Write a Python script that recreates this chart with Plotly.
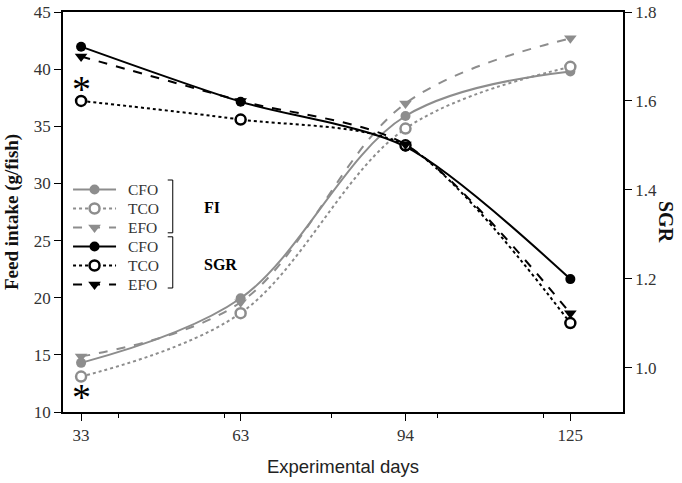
import plotly.graph_objects as go

days = [33, 63, 94, 125]
fi_cfo = [14.3, 19.95, 35.9, 39.8]
fi_tco = [13.1, 18.65, 34.8, 40.2]
fi_efo = [14.85, 19.6, 37.0, 42.7]
sgr_cfo = [1.722, 1.598, 1.497, 1.199]
sgr_tco = [1.600, 1.558, 1.500, 1.100]
sgr_efo = [1.700, 1.600, 1.502, 1.122]
x_ticks = [33, 63, 94, 125]
x_minor = [40, 60, 80, 100, 120]
y_ticks = [10, 15, 20, 25, 30, 35, 40, 45]
y2_ticks = [1.0, 1.2, 1.4, 1.6, 1.8]
labels = ["CFO", "TCO", "EFO"]

GREY = "#8d8d8d"
BLACK = "#000000"
SERIF = "Liberation Serif, Times New Roman, serif"

W, H = 682, 483
PL, PT, PW, PH = 63, 12, 560, 400

fig = go.Figure()

styles = [("solid", "circle"), ("dot", "open"), ("dash", "triangle-down")]


def add_group(series, color, axis, smoothing):
    for vals, lab, (dash, sym) in zip(series, labels, styles):
        is_open = sym == "open"
        fig.add_trace(go.Scatter(
            x=days, y=vals, name=" ",
            mode="lines+markers",
            line=dict(color=color, width=2, dash=dash, shape="spline", smoothing=smoothing),
            marker=dict(symbol="circle" if is_open else sym,
                        size=11 if sym == "triangle-down" else 10,
                        color="white" if is_open else color,
                        line=dict(color=color, width=2.5 if is_open else 0)),
            yaxis=axis))


add_group([fi_cfo, fi_tco, fi_efo], GREY, "y", 1.0)
add_group([sgr_cfo, sgr_tco, sgr_efo], BLACK, "y2", 0.8)

# asterisks marking significant differences
fig.add_annotation(x=33, y=38.25, xref="x", yref="y", text="*", showarrow=False,
                   font=dict(family=SERIF, size=38, color="black"))
fig.add_annotation(x=33, y=11.3, xref="x", yref="y", text="*", showarrow=False,
                   font=dict(family=SERIF, size=38, color="black"))

# legend labels (text beside legend keys)
ROW = 19 / PH
LEG_MID = 0.4375
for i, lab in enumerate(labels * 2):
    fig.add_annotation(x=0.1125, y=LEG_MID + (2.5 - i) * ROW, xref="paper", yref="paper",
                       xanchor="left", yanchor="middle", text=lab, showarrow=False,
                       font=dict(family=SERIF, size=15.5, color="#333"))


def bracket(y0, y1, x):
    return dict(type="path", xref="paper", yref="paper",
                path=f"M {x-0.009},{y1} L {x},{y1} L {x},{y0} L {x-0.009},{y0}",
                line=dict(color="black", width=1))


fig.add_shape(bracket(0.448, 0.58, 0.196))
fig.add_shape(bracket(0.31, 0.438, 0.196))
fig.add_annotation(x=0.248, y=0.512, xref="paper", yref="paper", text="<b>FI</b>",
                   showarrow=False, font=dict(family=SERIF, size=16, color="black"))
fig.add_annotation(x=0.248, y=0.37, xref="paper", yref="paper", text="<b>SGR</b>",
                   showarrow=False, font=dict(family=SERIF, size=16, color="black"))

# axis titles
fig.add_annotation(x=-0.091, y=0.5, xref="paper", yref="paper", xanchor="center", yanchor="middle",
                   text="<b>Feed intake (g/fish)</b>", textangle=-90, showarrow=False,
                   font=dict(family=SERIF, size=19, color="#111"))
fig.add_annotation(x=1.0768, y=0.475, xref="paper", yref="paper", xanchor="center", yanchor="middle",
                   text="<b>SGR</b>", textangle=90, showarrow=False,
                   font=dict(family=SERIF, size=20, color="#111"))

fig.update_layout(
    width=W, height=H,
    margin=dict(l=PL, r=W - PL - PW, t=PT, b=H - PT - PH, autoexpand=False),
    paper_bgcolor="white", plot_bgcolor="white",
    showlegend=True,
    legend=dict(x=0.009, y=LEG_MID, xanchor="left", yanchor="middle",
                font=dict(family=SERIF, size=11.5, color="#333"),
                bgcolor="rgba(0,0,0,0)", tracegroupgap=0, itemwidth=43),
    xaxis=dict(range=[29.6, 134.9], tickvals=x_ticks, ticktext=[str(v) for v in x_ticks],
               ticks="outside", ticklen=7, tickwidth=1.2, tickcolor="black",
               showline=True, linecolor="black", linewidth=1.5, mirror=True,
               showgrid=False, zeroline=False,
               minor=dict(tickvals=x_minor, ticks="outside", ticklen=4, tickcolor="black"),
               tickfont=dict(family=SERIF, size=17, color="#333"),
               title=dict(text="Experimental days", standoff=16,
                          font=dict(family="Liberation Sans, Arial, sans-serif", size=18.5, color="#222"))),
    yaxis=dict(range=[10, 45], tickvals=y_ticks,
               ticks="outside", ticklen=7, tickwidth=1.2, tickcolor="black",
               showline=True, linecolor="black", linewidth=1.5,
               showgrid=False, zeroline=False,
               tickfont=dict(family=SERIF, size=17, color="#333")),
    yaxis2=dict(range=[0.9, 1.8], tickvals=y2_ticks, ticktext=[f"{v:.1f}" for v in y2_ticks],
                overlaying="y", side="right",
                ticks="outside", ticklen=7, tickwidth=1.2, tickcolor="black",
                showline=True, linecolor="black", linewidth=1.5,
                showgrid=False, zeroline=False,
                tickfont=dict(family=SERIF, size=17, color="#333")),
)

# remove the browser's default 8px body margin so the figure sits at the page corner
fig.write_html("out.html", config={"displayModeBar": False},
               post_script="document.body.style.margin='0';")
